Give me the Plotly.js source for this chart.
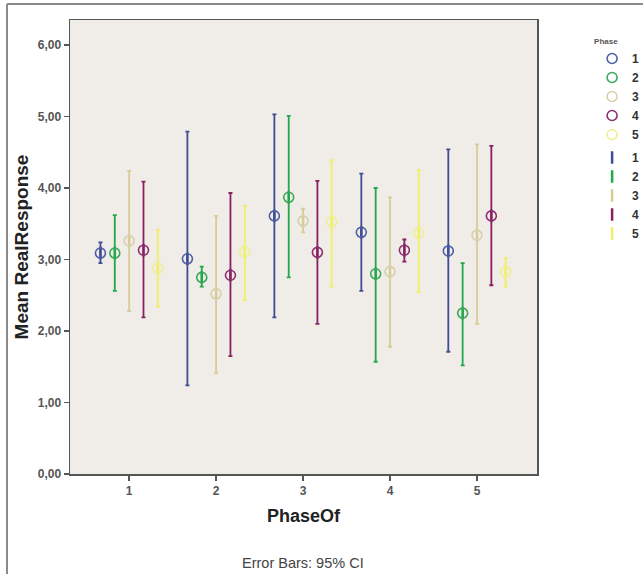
<!DOCTYPE html>
<html>
<head>
<meta charset="utf-8">
<script src="https://cdn.plot.ly/plotly-3.0.1.min.js"></script>
<style>html,body{margin:0;padding:0;background:#fff;}#chart{width:643px;height:574px;}</style>
</head>
<body>
<div id="chart"></div>
<script>
// PhaseOf categories
const phaseOf = [1, 2, 3, 4, 5];
const phases = ["1", "2", "3", "4", "5"];
// Means per phase (rows) across PhaseOf 1..5 (columns)
const mean1 = [3.09, 3.01, 3.61, 3.38, 3.12];
const mean2 = [3.09, 2.75, 3.87, 2.80, 2.25];
const mean3 = [3.26, 2.52, 3.54, 2.83, 3.34];
const mean4 = [3.13, 2.78, 3.10, 3.13, 3.61];
const mean5 = [2.88, 3.11, 3.53, 3.37, 2.83];
// 95% CI upper bounds
const upper1 = [3.24, 4.79, 5.03, 4.20, 4.54];
const upper2 = [3.62, 2.90, 5.01, 4.00, 2.95];
const upper3 = [4.24, 3.61, 3.71, 3.87, 4.61];
const upper4 = [4.09, 3.93, 4.10, 3.28, 4.59];
const upper5 = [3.41, 3.75, 4.39, 4.25, 3.02];
// 95% CI lower bounds
const lower1 = [2.95, 1.24, 2.19, 2.56, 1.71];
const lower2 = [2.56, 2.62, 2.75, 1.57, 1.52];
const lower3 = [2.28, 1.41, 3.38, 1.78, 2.10];
const lower4 = [2.19, 1.65, 2.10, 2.97, 2.64];
const lower5 = [2.34, 2.43, 2.62, 2.54, 2.62];

const means = [mean1, mean2, mean3, mean4, mean5];
const uppers = [upper1, upper2, upper3, upper4, upper5];
const lowers = [lower1, lower2, lower3, lower4, lower5];

const circleColors = ["#4f5ea6", "#3aa85a", "#d6d0a8", "#8a2f70", "#eef090"];
const barColors = ["#3e4c94", "#22a84c", "#d8cc96", "#8a1f62", "#f2f060"];
const step = 0.165;

const barTraces = [];
const meanTraces = [];
phases.forEach((p, i) => {
  const xs = phaseOf.map(v => v + (i - 2) * step);
  // Error bars (95% CI)
  barTraces.push({
    type: "scatter", mode: "markers", name: p,
    legendgroup: "bars", legendrank: 10 + i,
    x: xs, y: means[i],
    marker: {symbol: "line-ns-open", size: 9, color: barColors[i], line: {width: 2.5, color: barColors[i]}},
    error_y: {
      type: "data", symmetric: false,
      array: uppers[i].map((u, k) => u - means[i][k]),
      arrayminus: lowers[i].map((l, k) => means[i][k] - l),
      color: barColors[i], thickness: 1.8, width: 2
    }
  });
  // Mean markers
  meanTraces.push({
    type: "scatter", mode: "markers", name: p,
    legendgroup: "means", legendrank: 1 + i,
    x: xs, y: means[i],
    marker: {symbol: "circle-open", size: 10, color: circleColors[i], line: {width: 1.6, color: circleColors[i]}},
    cliponaxis: false
  });
});
const ordered = barTraces.concat(meanTraces);

const layout = {
  width: 643, height: 574,
  margin: {l: 70, r: 106, t: 20, b: 100, autoexpand: false},
  paper_bgcolor: "#ffffff",
  plot_bgcolor: "#f0ece8",
  separators: ",.",
  font: {family: "Liberation Sans, Arial, sans-serif", color: "#333"},
  showlegend: true,
  legend: {
    x: 1.118, xanchor: "left", y: 0.97, yanchor: "top",
    traceorder: "grouped", tracegroupgap: 4,
    font: {size: 12, color: "#333", weight: "bold"},
    title: {text: "Phase", font: {size: 8, color: "#555"}},
    bgcolor: "rgba(0,0,0,0)", itemwidth: 30
  },
  xaxis: {
    range: [0.32, 5.69],
    tickvals: phaseOf, ticktext: phaseOf.map(String),
    ticks: "outside", ticklen: 5, tickwidth: 1.5, tickcolor: "#555",
    showgrid: false, zeroline: false,
    showline: true, mirror: true, linecolor: "#555", linewidth: 1.5,
    tickfont: {size: 12, color: "#555", weight: "bold"},
    title: {text: "<b>PhaseOf</b>", font: {size: 18, color: "#222"}, standoff: 12}
  },
  yaxis: {
    range: [0, 6.35],
    tickvals: [0, 1, 2, 3, 4, 5, 6], tickformat: ".2f",
    ticks: "outside", ticklen: 5, tickwidth: 1.5, tickcolor: "#555",
    showgrid: false, zeroline: false,
    showline: true, mirror: true, linecolor: "#555", linewidth: 1.5,
    tickfont: {size: 12, color: "#555", weight: "bold"},
    title: {text: "<b>Mean RealResponse</b>", font: {size: 19, color: "#222"}, standoff: 4}
  },
  annotations: [{
    text: "Error Bars: 95% CI", xref: "paper", yref: "paper",
    x: (303 - 70) / 467, y: (474 - 563) / 454, xanchor: "center", yanchor: "middle",
    showarrow: false, font: {size: 14.5, color: "#444"}
  }],
  shapes: [
    {type: "line", xref: "paper", yref: "paper", x0: (7 - 70) / 467, x1: (643 - 70) / 467, y0: (474 - 4) / 454, y1: (474 - 4) / 454, line: {color: "#8a8a8a", width: 2}},
    {type: "line", xref: "paper", yref: "paper", x0: (7 - 70) / 467, x1: (7 - 70) / 467, y0: (474 - 4) / 454, y1: (474 - 574) / 454, line: {color: "#8a8a8a", width: 2}}
  ]
};

Plotly.newPlot("chart", ordered, layout, {displayModeBar: false, staticPlot: true});
</script>
</body>
</html>
